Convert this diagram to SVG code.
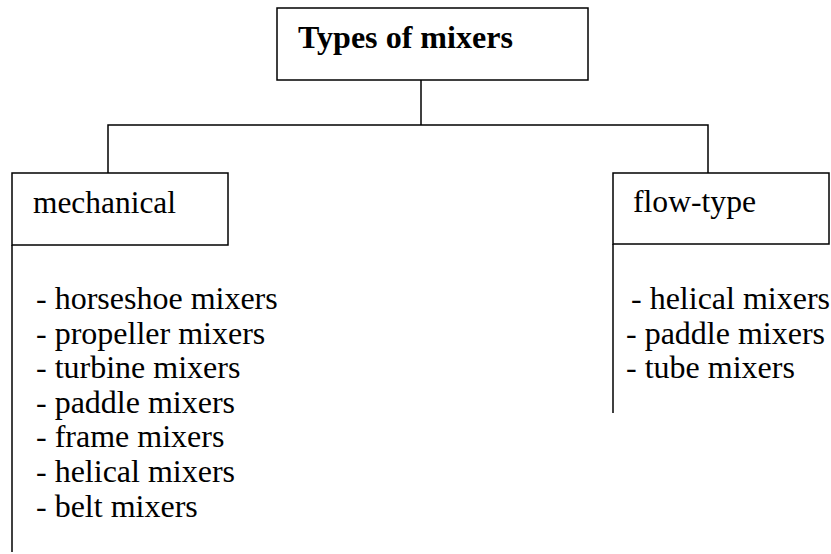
<svg xmlns="http://www.w3.org/2000/svg" width="831" height="554" viewBox="0 0 831 554">
<style>
.box{fill:#fff;stroke:#000;stroke-width:1.5}
.ln{fill:none;stroke:#000;stroke-width:1.5}
.t{font-family:'Liberation Serif','Times New Roman',serif;font-size:31px;fill:#000}
.li{font-size:32px}
.b{font-weight:bold}
</style>
<rect width="831" height="554" fill="#fff"/>
<g id="connectors">
<polyline class="ln" points="421,80 421,125"/>
<polyline class="ln" points="108,173 108,125 708,125 708,173"/>
<polyline class="ln" points="12,245 12,552"/>
<polyline class="ln" points="613,244 613,413"/>
</g>
<g id="root">
<rect class="box" x="277" y="8" width="311" height="72"/>
<text class="t b" x="298" y="48" textLength="215" lengthAdjust="spacingAndGlyphs">Types of mixers</text>
</g>
<g id="mechanical">
<rect class="box" x="12" y="173" width="216" height="72"/>
<text class="t" x="33" y="213" textLength="143" lengthAdjust="spacingAndGlyphs">mechanical</text>
</g>
<g id="flow-type">
<rect class="box" x="613" y="173" width="216" height="71"/>
<text class="t" x="633" y="212" textLength="123" lengthAdjust="spacingAndGlyphs">flow-type</text>
</g>
<g id="mechanical-list">
<text class="t li" x="36" y="309">- horseshoe mixers</text>
<text class="t li" x="36" y="344">- propeller mixers</text>
<text class="t li" x="36" y="378">- turbine mixers</text>
<text class="t li" x="36" y="413">- paddle mixers</text>
<text class="t li" x="36" y="447">- frame mixers</text>
<text class="t li" x="36" y="482">- helical mixers</text>
<text class="t li" x="36" y="517">- belt mixers</text>
</g>
<g id="flow-type-list">
<text class="t li" x="631" y="309">- helical mixers</text>
<text class="t li" x="626" y="344">- paddle mixers</text>
<text class="t li" x="626" y="378">- tube mixers</text>
</g>
</svg>
